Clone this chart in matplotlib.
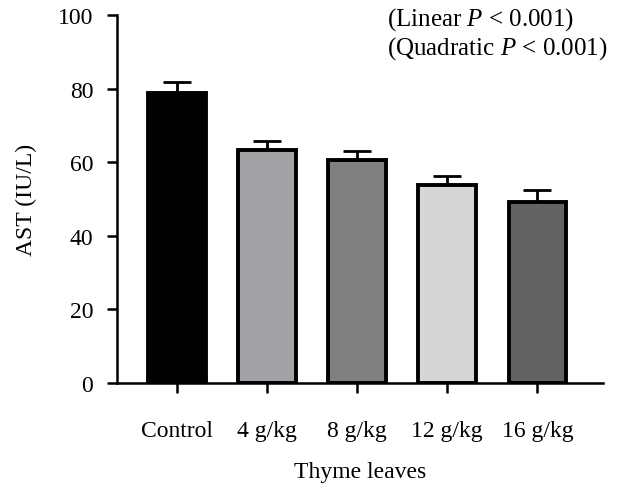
import matplotlib
matplotlib.use("Agg")
import matplotlib.pyplot as plt
import numpy as np

categories = ["Control", "4 g/kg", "8 g/kg", "12 g/kg", "16 g/kg"]
values = [78.8, 63.4, 60.7, 53.8, 49.3]
errors = [2.9, 2.4, 2.3, 2.5, 3.2]
colors = ["#000000", "#a3a2a6", "#808080", "#d6d6d6", "#636363"]
yticks = [0, 20, 40, 60, 80, 100]

plt.rcParams['font.family'] = ['Liberation Serif', 'DejaVu Serif']
plt.rcParams['mathtext.fontset'] = 'custom'
plt.rcParams['mathtext.it'] = 'Liberation Serif:italic'
plt.rcParams['mathtext.rm'] = 'Liberation Serif'

fig = plt.figure(figsize=(6.25, 4.89), dpi=100)
ax = fig.add_axes([0.187, 0.215, 0.778, 0.752])

x = np.arange(len(categories))
ax.bar(x, values, width=0.64, color=colors, edgecolor="black", linewidth=2.8, zorder=3)
ax.errorbar(x, values, yerr=[np.zeros(len(errors)), errors], fmt="none", ecolor="black",
            elinewidth=2, capsize=10, capthick=2, zorder=2)

ax.set_xlim(-0.667, 4.73)
ax.set_ylim(0, 100)
ax.set_yticks(yticks)
ax.set_xticks(x)
ax.set_xticklabels(categories)
ax.spines["top"].set_visible(False)
ax.spines["right"].set_visible(False)
for s in ["left", "bottom"]:
    ax.spines[s].set_linewidth(1.8)
ax.tick_params(axis="both", direction="out", length=7, width=1.8, labelsize=17)
ax.tick_params(axis="y", pad=10)
ax.tick_params(axis="x", pad=20)
ax.set_ylabel("AST (IU/L)", fontsize=17, labelpad=15)
ax.set_xlabel("Thyme leaves", fontsize=17, labelpad=14)

fig.text(0.619, 1 - 20 / 489, "(Linear $P$ < 0.001)", fontsize=18, va="center", ha="left")
fig.text(0.619, 1 - 49 / 489, "(Quadratic $P$ < 0.001)", fontsize=18, va="center", ha="left")

fig.savefig("out.png", dpi=100)
